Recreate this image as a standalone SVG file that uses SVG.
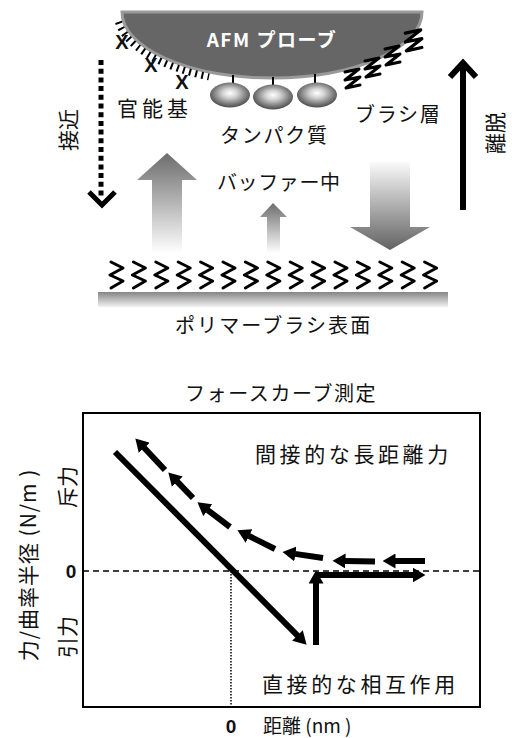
<svg xmlns="http://www.w3.org/2000/svg" width="512" height="738" viewBox="0 0 512 738">
  <defs>
    <style>
      text { font-family: "Noto Sans CJK JP", "Noto Sans", sans-serif; fill: #111; }
      .lbl { font-size: 20px; dominant-baseline: central; }
      .big { font-size: 21px; dominant-baseline: central; }
      .num { font-family: "Liberation Sans", sans-serif; font-size: 19px; font-weight: bold; text-anchor: middle; }
      .xmark { font-family: "Liberation Sans", sans-serif; font-size: 20px; font-weight: bold; text-anchor: middle; dominant-baseline: central; }
      .zig { fill: none; stroke: #000; stroke-width: 3; stroke-linejoin: round; stroke-linecap: round; }
      .thick { stroke: #000; stroke-width: 6; fill: none; }
    </style>
    <linearGradient id="upFade" x1="0" y1="0" x2="0" y2="1">
      <stop offset="0" stop-color="#6c6c6c"/>
      <stop offset="1" stop-color="#ffffff"/>
    </linearGradient>
    <linearGradient id="downFade" x1="0" y1="0" x2="0" y2="1">
      <stop offset="0" stop-color="#fafafa"/>
      <stop offset="1" stop-color="#626262"/>
    </linearGradient>
    <linearGradient id="surface" x1="0" y1="0" x2="0" y2="1">
      <stop offset="0" stop-color="#858585"/>
      <stop offset="1" stop-color="#f2f2f2"/>
    </linearGradient>
    <radialGradient id="bead" cx="0.5" cy="0.45" r="0.6" fx="0.5" fy="0.42">
      <stop offset="0" stop-color="#ffffff"/>
      <stop offset="0.3" stop-color="#d4d4d4"/>
      <stop offset="0.7" stop-color="#7a7a7a"/>
      <stop offset="1" stop-color="#3a3a3a"/>
    </radialGradient>
    <marker id="head" viewBox="0 0 13 15" refX="0.5" refY="7.5" markerWidth="13" markerHeight="15" markerUnits="userSpaceOnUse" orient="auto">
      <path d="M0,0 L13,7.5 L0,15 z" fill="#000"/>
    </marker>
    <!-- zigzag chain grafted on the tip -->
    <path id="zz" d="M-7,-8 L7,-11 L-7,0 L8,-3 L-6,8 L8,5"/>
    <!-- zigzag chain grafted on the surface -->
    <path id="sz" d="M3,0 L15,6 L2,13 L15,19 L3,26"/>
  </defs>

  <rect width="512" height="738" fill="#fff"/>

  <!-- AFM probe tip -->
  <g id="probe">
    <path d="M122,12 L422,12 A150,66 0 0 1 122,12 Z" fill="#666" stroke="#9a9a9a" stroke-width="3"/>
    <text x="272" y="38" text-anchor="middle" dominant-baseline="central" style="font-size:19px;font-weight:bold;fill:#fff;letter-spacing:1.5px">AFM プローブ</text>
  </g>

  <!-- functional groups along the tip surface -->
  <g id="functional-groups">
    <path d="M118.5,21.9 A155,71 0 0 0 209,76.9" fill="none" stroke="#000" stroke-width="7" stroke-dasharray="2 4.4"/>
    <text class="xmark" x="122" y="42">X</text>
    <text class="xmark" x="151" y="65">X</text>
    <text class="xmark" x="182" y="82">X</text>
    <text class="big" x="117" y="107" style="letter-spacing:4px">官能基</text>
  </g>

  <!-- proteins tethered to the tip -->
  <g id="proteins">
    <g stroke="#000" stroke-width="2">
      <line x1="233" y1="75" x2="233" y2="85"/>
      <line x1="273" y1="77" x2="273" y2="87"/>
      <line x1="315" y1="74" x2="315" y2="84"/>
    </g>
    <ellipse cx="230" cy="95" rx="20" ry="12.5" fill="url(#bead)"/>
    <ellipse cx="273" cy="97" rx="20" ry="12.5" fill="url(#bead)"/>
    <ellipse cx="317" cy="95" rx="20" ry="12.5" fill="url(#bead)"/>
    <text class="lbl" x="220" y="134" style="letter-spacing:1.75px">タンパク質</text>
  </g>

  <!-- brush layer on the tip -->
  <g id="brush-layer">
    <use href="#zz" class="zig" transform="translate(352,80)"/>
    <use href="#zz" class="zig" transform="translate(372,69)"/>
    <use href="#zz" class="zig" transform="translate(392,57)"/>
    <use href="#zz" class="zig" transform="translate(413,42) scale(1.1)"/>
    <text class="lbl" x="355" y="113" style="letter-spacing:1.7px">ブラシ層</text>
  </g>

  <!-- approach / retract -->
  <g id="approach">
    <line x1="101" y1="60" x2="101" y2="199" stroke="#000" stroke-width="5" stroke-dasharray="5 3.7"/>
    <polyline points="89,192 102,205 115,192" fill="none" stroke="#000" stroke-width="5"/>
    <text class="big" transform="translate(67,130) rotate(-90)" text-anchor="middle">接近</text>
  </g>
  <g id="retract">
    <line x1="463" y1="210" x2="463" y2="64" stroke="#000" stroke-width="6"/>
    <polyline points="450,77 463,63 476,77" fill="none" stroke="#000" stroke-width="6"/>
    <text class="big" transform="translate(494,133) rotate(-90)" text-anchor="middle">離脱</text>
  </g>

  <!-- interaction arrows in buffer -->
  <g id="buffer">
    <polygon points="167,153 197,180 182,180 182,253 152,253 152,180 137,180" fill="url(#upFade)"/>
    <polygon points="273,203 287,217 280,217 280,253 267,253 267,217 260,217" fill="url(#upFade)"/>
    <polygon points="370,162 410,162 410,227 430,227 390,250 350,227 370,227" fill="url(#downFade)"/>
    <text class="lbl" x="217" y="181" style="letter-spacing:0.6px">バッファー中</text>
  </g>

  <!-- polymer brush surface -->
  <g id="surface-brush">
    <g class="zig">
      <use href="#sz" x="108" y="262"/>
      <use href="#sz" x="130.4" y="262"/>
      <use href="#sz" x="152.8" y="262"/>
      <use href="#sz" x="175.2" y="262"/>
      <use href="#sz" x="197.6" y="262"/>
      <use href="#sz" x="220" y="262"/>
      <use href="#sz" x="242.4" y="262"/>
      <use href="#sz" x="264.8" y="262"/>
      <use href="#sz" x="287.2" y="262"/>
      <use href="#sz" x="309.6" y="262"/>
      <use href="#sz" x="332" y="262"/>
      <use href="#sz" x="354.4" y="262"/>
      <use href="#sz" x="376.8" y="262"/>
      <use href="#sz" x="399.2" y="262"/>
      <use href="#sz" x="421.6" y="262"/>
    </g>
    <rect x="98" y="292" width="350" height="15" fill="url(#surface)"/>
    <text class="lbl" x="175" y="324" style="letter-spacing:2.1px">ポリマーブラシ表面</text>
  </g>

  <!-- force curve plot -->
  <g id="plot">
    <text class="lbl" x="185" y="392" style="letter-spacing:1.6px">フォースカーブ測定</text>
    <rect x="83" y="413" width="397" height="294" fill="none" stroke="#000" stroke-width="2"/>
    <line x1="83" y1="571" x2="480" y2="571" stroke="#000" stroke-width="1.5" stroke-dasharray="6 4"/>
    <line x1="231" y1="571" x2="231" y2="707" stroke="#000" stroke-width="1.5" stroke-dasharray="1.5 1.5"/>
    <text class="num" x="71" y="578">0</text>
    <text class="num" x="231" y="733">0</text>
    <text x="263" y="724" style="font-size:19px;dominant-baseline:central">距離 (nm )</text>
    <text class="big" transform="translate(27,565) rotate(-90)" text-anchor="middle" style="letter-spacing:1px">力/曲率半径 (N/m )</text>
    <text class="big" transform="translate(66,487) rotate(-90)" text-anchor="middle">斥力</text>
    <text class="big" transform="translate(66,637) rotate(-90)" text-anchor="middle">引力</text>
    <text class="big" x="255" y="453" style="letter-spacing:3.6px">間接的な長距離力</text>
    <text class="big" x="262" y="683" style="letter-spacing:3.6px">直接的な相互作用</text>
  </g>

  <!-- curve traces -->
  <g id="connectors">
    <g class="thick" stroke-width="5" marker-end="url(#head)">
      <line x1="115" y1="452" x2="297.8" y2="635.8"/>
      <line x1="316" y1="645" x2="316" y2="583"/>
      <line x1="317" y1="575" x2="413" y2="575"/>
    </g>
    <g class="thick" marker-end="url(#head)">
      <line x1="425" y1="561" x2="395" y2="561"/>
      <line x1="375" y1="561.5" x2="345" y2="561"/>
      <line x1="323" y1="558" x2="294.9" y2="553.9"/>
      <line x1="275" y1="549" x2="248.6" y2="535.8"/>
      <line x1="230" y1="527" x2="207.4" y2="509.9"/>
      <line x1="193" y1="498" x2="177" y2="481.4"/>
      <line x1="165" y1="470" x2="143.9" y2="447.5"/>
    </g>
  </g>
</svg>
